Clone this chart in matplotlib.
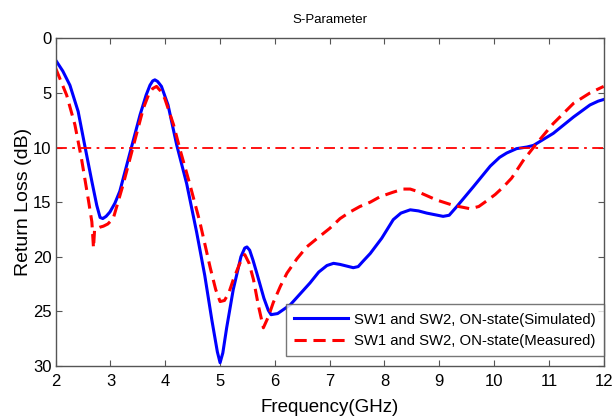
# libraries
import numpy as np
import matplotlib
matplotlib.use("Agg")
import matplotlib.pyplot as plt

plt.rcParams['font.family'] = ['Liberation Sans', 'DejaVu Sans']

# simulated return loss (blue, solid)
sim_freq = [2.0, 2.13, 2.26, 2.41, 2.53, 2.66, 2.75, 2.81, 2.86, 2.92, 2.99, 3.08, 3.17,
            3.36, 3.54, 3.65, 3.72, 3.77, 3.81, 3.86, 3.93, 4.05, 4.21, 4.39, 4.57, 4.72,
            4.85, 4.95, 5.0, 5.05, 5.12, 5.24, 5.38, 5.45, 5.49, 5.54, 5.6, 5.67, 5.8,
            5.88, 5.93, 6.05, 6.28, 6.46, 6.64, 6.8, 6.95, 7.07, 7.19, 7.43, 7.52, 7.61,
            7.74, 7.95, 8.16, 8.3, 8.47, 8.62, 8.77, 9.07, 9.18, 9.32, 9.62, 9.93, 10.1,
            10.23, 10.41, 10.6, 10.72, 11.08, 11.45, 11.75, 11.9, 12.0]
sim_rl = [2.0, 3.0, 4.3, 6.7, 9.8, 13.1, 15.3, 16.4, 16.5, 16.3, 15.9, 15.1, 14.0,
          10.4, 7.0, 5.2, 4.3, 3.9, 3.8, 3.95, 4.4, 6.1, 9.8, 13.3, 17.7, 21.7,
          25.8, 28.7, 29.7, 28.8, 26.5, 23.0, 20.0, 19.2, 19.1, 19.4, 20.3, 21.5, 23.8,
          24.9, 25.3, 25.2, 24.4, 23.4, 22.4, 21.4, 20.8, 20.6, 20.7, 21.0, 20.9, 20.4,
          19.7, 18.3, 16.6, 16.0, 15.7, 15.8, 16.0, 16.3, 16.2, 15.4, 13.6, 11.7, 10.9,
          10.5, 10.1, 9.95, 9.8, 8.7, 7.2, 6.1, 5.75, 5.6]

# measured return loss (red, dashed)
meas_freq = [2.0, 2.2, 2.35, 2.47, 2.6, 2.66, 2.69, 2.71, 2.8, 2.87, 2.95, 3.05, 3.23,
             3.42, 3.6, 3.7, 3.77, 3.84, 3.91, 3.99, 4.15, 4.27, 4.45, 4.63, 4.82, 4.92,
             5.0, 5.08, 5.16, 5.24, 5.36, 5.45, 5.53, 5.61, 5.7, 5.79, 5.88, 5.97, 6.1,
             6.22, 6.4, 6.58, 6.8, 7.0, 7.19, 7.37, 7.55, 7.74, 7.92, 8.15, 8.34, 8.47,
             8.59, 8.77, 8.95, 9.26, 9.56, 9.72, 9.86, 10.02, 10.17, 10.32, 10.53, 10.78,
             11.08, 11.45, 11.75, 12.0]
meas_rl = [2.75, 5.2, 7.9, 11.0, 14.9, 16.8, 19.2, 17.5, 17.3, 17.2, 17.0, 16.5, 13.4,
           9.8, 6.4, 5.1, 4.6, 4.4, 4.8, 5.5, 7.9, 10.2, 13.4, 16.8, 21.0, 23.0,
           24.1, 24.0, 23.3, 22.1, 20.6, 19.8, 20.6, 22.1, 24.5, 26.5, 25.5, 24.2, 22.7,
           21.5, 20.2, 19.1, 18.2, 17.4, 16.5, 15.9, 15.4, 15.0, 14.5, 14.1, 13.8, 13.8,
           14.0, 14.4, 14.8, 15.3, 15.6, 15.4, 14.9, 14.3, 13.6, 12.8, 11.2, 9.6,
           7.8, 5.95, 5.0, 4.4]

threshold = 10  # -10 dB reference line
x_ticks = list(range(2, 13))
y_ticks = [0, 5, 10, 15, 20, 25, 30]

fig = plt.figure(figsize=(6.14, 4.18), dpi=100)
ax = fig.add_axes([0.0907, 0.1244, 0.8925, 0.7839])

ax.plot(sim_freq, sim_rl, color='#0000ff', lw=2.2, solid_joinstyle='round',
        label='SW1 and SW2, ON-state(Simulated)')
ax.plot(meas_freq, meas_rl, color='#ff0000', lw=2.2, dashes=(4, 2.2),
        dash_joinstyle='round', label='SW1 and SW2, ON-state(Measured)')
ax.axhline(threshold, color='#ff0000', lw=1.3, dashes=(6, 3, 1.5, 3))

ax.set_xlim(2, 12)
ax.set_ylim(30, 0)
ax.set_xticks(x_ticks)
ax.set_yticks(y_ticks)
ax.tick_params(direction='in', top=True, right=True, length=4, width=0.8,
               color='#555555', labelsize=12)
ax.tick_params(axis='x', pad=6)
ax.tick_params(axis='y', pad=3)
for s in ax.spines.values():
    s.set_color('#555555')
    s.set_linewidth(1.0)

ax.set_title('S-Parameter', fontsize=9.5, pad=11)
ax.set_xlabel('Frequency(GHz)', fontsize=13.5, labelpad=7)
ax.set_ylabel('Return Loss (dB)', fontsize=14, labelpad=1)

leg = ax.legend(loc='lower right', bbox_to_anchor=(1.0, 0.03), fontsize=10.7,
                frameon=True, fancybox=False, handlelength=3.6, borderaxespad=0,
                labelspacing=0.5, borderpad=0.55, handletextpad=0.4)
leg.get_frame().set_edgecolor('#555555')
leg.get_frame().set_linewidth(1.0)

fig.savefig('out.png', dpi=100)
